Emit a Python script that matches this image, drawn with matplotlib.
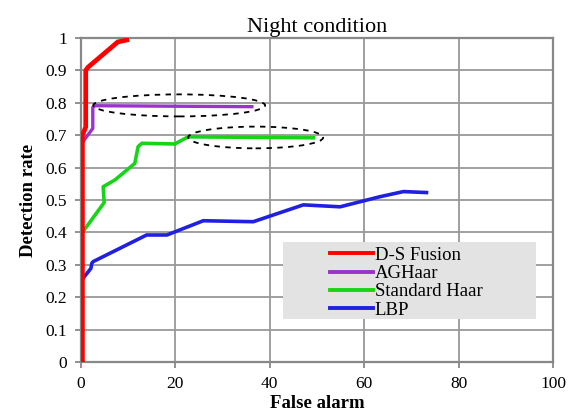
import matplotlib
matplotlib.use("Agg")
import matplotlib.pyplot as plt
from matplotlib.patches import Ellipse, Rectangle

plt.rcParams['font.family'] = ['Liberation Serif', 'DejaVu Serif']

title = "Night condition"
xlabel = "False alarm"
ylabel = "Detection rate"

ds_x = [0.3, 0.3, 1.0, 1.0, 1.5, 7.8, 8.5, 9.7]
ds_y = [0.0, 0.70, 0.725, 0.90, 0.91, 0.988, 0.99, 0.994]

ag_x = [0.15, 0.15, 2.5, 2.5, 3.0, 36.2]
ag_y = [0.0, 0.675, 0.721, 0.786, 0.791, 0.788]

sh_x = [0.15, 0.15, 4.9, 4.7, 7.2, 11.4, 12.1, 12.9, 19.9, 22.7, 49.2]
sh_y = [0.253, 0.397, 0.492, 0.541, 0.562, 0.613, 0.665, 0.675, 0.673, 0.695, 0.692]

lbp_x = [0.15, 0.15, 2.1, 2.3, 2.6, 13.9, 18.2, 25.9, 36.5, 47.1, 54.9, 63.3, 68.3, 73.2]
lbp_y = [0.02, 0.253, 0.289, 0.305, 0.31, 0.392, 0.392, 0.436, 0.433, 0.485, 0.479, 0.51, 0.526, 0.523]

series_labels = ["D-S Fusion", "AGHaar", "Standard Haar", "LBP"]
xticks = [0, 20, 40, 60, 80, 100]
yticks = [0, 0.1, 0.2, 0.3, 0.4, 0.5, 0.6, 0.7, 0.8, 0.9, 1]
ytick_labels = ["0", "0.1", "0.2", "0.3", "0.4", "0.5", "0.6", "0.7", "0.8", "0.9", "1"]

fig = plt.figure(figsize=(5.76, 4.13), dpi=100)
ax = fig.add_axes([81/576, 51/413, 472/576, 324/413])

ax.set_xlim(0, 100)
ax.set_ylim(0, 1)
ax.set_xticks(xticks)
ax.set_yticks(yticks)
ax.set_yticklabels(ytick_labels)
ax.grid(True, color='#999999', linewidth=1.3)
ax.set_axisbelow(True)
for s in ax.spines.values():
    s.set_color('#888888')
    s.set_linewidth(1.6)
ax.tick_params(axis='both', direction='out', length=4, width=1.3, color='#888888',
               labelsize=12.5, pad=6)

l_lbp, = ax.plot(lbp_x, lbp_y, color='#2020e0', linewidth=2.6, solid_joinstyle='round', zorder=3)
l_sh, = ax.plot(sh_x, sh_y, color='#18d418', linewidth=2.6, solid_joinstyle='round', zorder=4)
l_ag, = ax.plot(ag_x, ag_y, color='#9933cc', linewidth=2.4, solid_joinstyle='round', zorder=5)
l_ds, = ax.plot(ds_x, ds_y, color='#ff0000', linewidth=3.4, solid_joinstyle='round', zorder=6)

ax.add_patch(Ellipse((20.8, 0.792), 36.4, 0.068, fill=False, edgecolor='black',
                     linestyle=(0, (3, 3)), linewidth=1.3, zorder=7))
ax.add_patch(Ellipse((37.0, 0.693), 28.6, 0.067, fill=False, edgecolor='black',
                     linestyle=(0, (3, 3)), linewidth=1.3, zorder=7))

ax.add_patch(Rectangle((0.4286, 0.132), 0.5345, 0.237, transform=ax.transAxes,
                       facecolor='#e3e3e3', edgecolor='none', zorder=8))
leg = ax.legend([l_ds, l_ag, l_sh, l_lbp], series_labels, loc='upper left',
                bbox_to_anchor=((326-81)/472, (362-243)/324), frameon=False,
                fontsize=13.5, handlelength=2.3, handletextpad=0.1, labelspacing=0.06,
                borderpad=0.2, borderaxespad=0)
leg.set_zorder(9)
for h in leg.get_lines():
    h.set_linewidth(2.8)

ax.set_title(title, fontsize=16, pad=4)
ax.set_xlabel(xlabel, fontsize=13.5, fontweight='bold', labelpad=2)
ax.set_ylabel(ylabel, fontsize=13.5, fontweight='bold', labelpad=6)

fig.savefig("out.png", dpi=100)
